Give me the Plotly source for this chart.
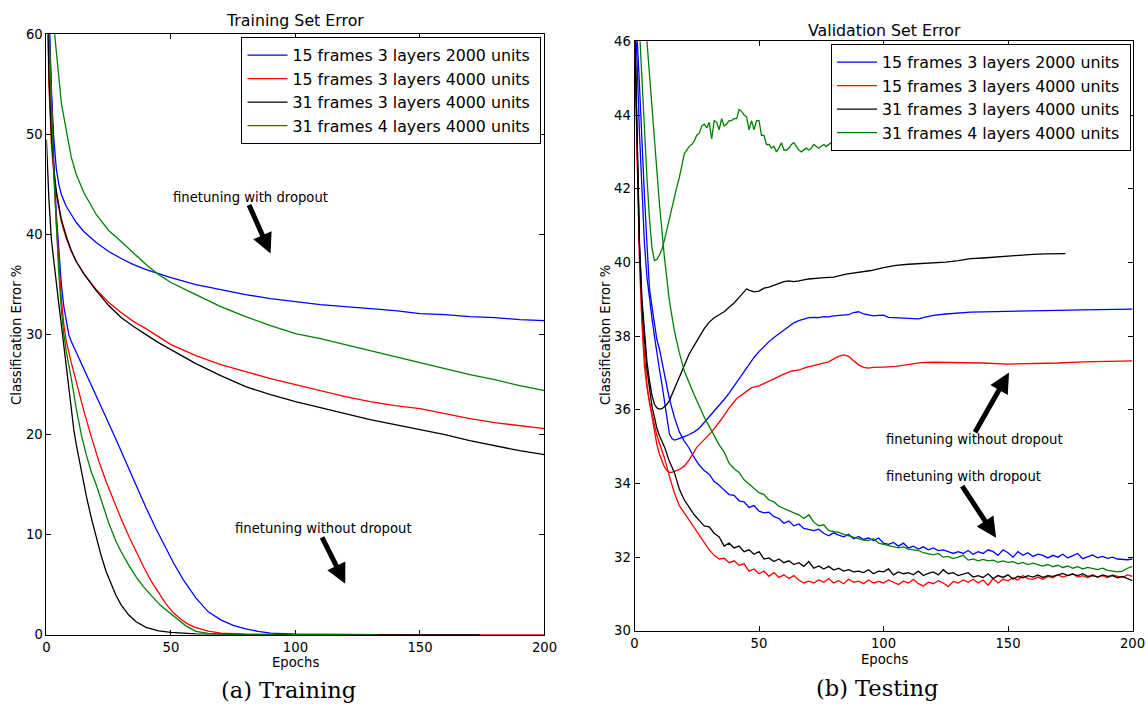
import plotly.graph_objects as go

# ---------------- Training (left) ----------------
TR_EPOCHS_DO = [0, 1, 2, 3, 4, 5, 6, 8, 10, 12, 15, 20, 25, 30, 35, 40, 45, 50,
                60, 70, 80, 90, 100, 110, 120, 130, 140, 150, 160, 170, 180, 190, 200]
tr_blue_do = [80, 62, 54, 49.5, 46.5, 45.0, 44.0, 42.8, 42.0, 41.2, 40.3,
              39.2, 38.3, 37.6, 37.0, 36.5, 36.1, 35.7,
              35.0, 34.5, 34.0, 33.6, 33.3, 33.0, 32.8, 32.6, 32.4, 32.1, 32.0, 31.8, 31.7, 31.5, 31.4]
tr_red_do = [70, 55, 49, 46, 44, 42.5, 41.3, 39.6, 38.3, 37.3, 36.1,
             34.5, 33.2, 32.2, 31.3, 30.6, 29.8, 29.0,
             27.9, 27.0, 26.3, 25.6, 25.0, 24.4, 23.8, 23.3, 22.9, 22.6, 22.1, 21.6, 21.2, 20.9, 20.6]
tr_black_do = [70, 56, 50, 46.5, 44.3, 42.7, 41.5, 39.8, 38.4, 37.3, 36.1,
               34.4, 32.9, 31.7, 30.8, 30.0, 29.2, 28.5,
               27.1, 25.9, 24.8, 24.0, 23.3, 22.7, 22.1, 21.5, 21.0, 20.5, 20.0, 19.4, 18.9, 18.4, 18.0]
tr_green_do = [80, 70, 63.5, 60.8, 58.5, 55.7, 53.1, 50.2, 47.7, 46.0, 44.2,
               42.0, 40.4, 39.3, 38.2, 37.0, 36.0, 35.2,
               34.0, 32.8, 31.8, 30.9, 30.1, 29.6, 29.0, 28.4, 27.8, 27.2, 26.6, 26.0, 25.5, 24.9, 24.4]

tr_blue_nd_x = [0, 1, 2, 3, 4, 5, 6, 7, 8, 9, 10, 13, 16, 20, 24, 28, 32, 36, 40, 44, 48,
                51, 55, 60, 65, 70, 75, 80, 85, 90, 100, 130]
tr_blue_nd_y = [70, 62, 54, 47, 42, 38, 35, 32.8, 31.2, 30.0, 29.3, 27.7, 26.1, 23.9, 21.7, 19.5, 17.2, 14.9, 12.7, 10.6, 8.6,
                7.2, 5.5, 3.7, 2.3, 1.5, 0.95, 0.6, 0.35, 0.18, 0.07, 0.02]
tr_red_nd_x = [0, 1, 2, 3, 4, 5, 6, 7, 8, 10, 12, 15, 18, 21, 24, 27, 30, 33, 36, 39, 42, 45, 48,
               51, 54, 57, 60, 65, 70, 80, 100, 150, 200]
tr_red_nd_y = [68, 60, 52, 46, 41, 37, 33.5, 31, 29.3, 27.2, 25.2, 22.4, 19.8, 17.4, 15.3, 13.4, 11.6, 9.9, 8.3, 6.8, 5.4, 4.2, 3.1,
               2.2, 1.55, 1.05, 0.72, 0.38, 0.17, 0.06, 0.03, 0.02, 0.01]
tr_black_nd_x = [0, 1, 2, 3, 4, 5, 6, 7, 8, 9, 10, 11, 12, 14, 16, 18, 20, 22, 24, 26, 28, 30,
                 33, 36, 40, 45, 50, 60, 70, 80, 100, 174]
tr_black_nd_y = [49.5, 43.5, 39.5, 37.2, 35.0, 33.0, 31.0, 28.9, 26.8, 24.6, 22.5, 20.5, 19.0, 16.3, 13.9, 11.7, 9.7, 7.9, 6.3, 5.0, 3.9, 3.0,
                 2.0, 1.3, 0.75, 0.4, 0.25, 0.1, 0.05, 0.03, 0.02, 0.01]
tr_green_nd_x = [0, 1, 2, 3, 4, 5, 6, 7, 8, 9, 10, 12, 14, 16, 18, 20, 22, 25, 28, 30, 33, 36, 39, 41, 43, 46, 50,
                 53, 56, 60, 65, 70, 80, 100, 133]
tr_green_nd_y = [70, 61, 53, 46, 40.5, 36, 32.5, 30.0, 28.3, 27, 25.6, 22.6, 20.0, 18.0, 16.3, 15.0, 13.4, 11.2, 9.3, 8.3, 7.0, 5.8, 4.8, 4.3, 3.7, 2.9, 2.1,
                 1.5, 0.9, 0.35, 0.15, 0.08, 0.04, 0.02, 0.01]

# ---------------- Validation (right) ----------------
VA_EPOCHS_DO = list(range(0, 11)) + list(range(12, 201, 2))
va_blue_do = [47, 46.2, 44.8, 43.2, 41.8, 40.5, 39.3, 38.8, 38.3, 37.9,
              37.65, 37.0, 36.3, 35.8, 35.4, 35.15, 34.95, 34.7, 34.5, 34.35,
              34.25, 34.05, 33.95, 33.82, 33.7, 33.68, 33.53, 33.5, 33.35, 33.4,
              33.25, 33.2, 33.22, 33.1, 33.05, 32.92, 32.98, 32.85, 32.9, 32.78,
              32.75, 32.72, 32.76, 32.65, 32.58, 32.66, 32.6, 32.55, 32.62, 32.5,
              32.56, 32.48, 32.52, 32.45, 32.52, 32.38, 32.35, 32.4, 32.3, 32.38,
              32.25, 32.3, 32.22, 32.28, 32.2, 32.25, 32.18, 32.2, 32.15, 32.1,
              32.15, 32.1, 32.18, 32.08, 32.15, 32.1, 32.2, 32.15, 32.05, 32.2,
              32.12, 32.0, 32.15, 32.05, 32.12, 32.02, 32.08, 32.05, 31.98, 32.05,
              32.0, 32.08, 31.98, 32.04, 32.1, 31.96, 32.02, 32.06, 31.98, 32.02,
              31.97, 32.0, 31.95, 31.94, 31.93, 31.95]
va_red_do = [47, 43, 40.3, 38.6, 37.5, 36.7, 36.2, 35.9, 35.6, 35.3,
             35.1, 34.7, 34.2, 33.75, 33.4, 33.2, 33.0, 32.78, 32.6, 32.4,
             32.2, 32.05, 31.95, 31.97, 31.85, 31.9, 31.78, 31.82, 31.62, 31.68,
             31.55, 31.62, 31.48, 31.58, 31.45, 31.52, 31.42, 31.5, 31.38, 31.3,
             31.35, 31.3, 31.38, 31.32, 31.42, 31.3, 31.36, 31.28, 31.4, 31.32,
             31.35, 31.28, 31.38, 31.3, 31.34, 31.3, 31.38, 31.32, 31.26, 31.35,
             31.3, 31.4, 31.28, 31.22, 31.32, 31.28, 31.36, 31.3, 31.2, 31.34,
             31.3, 31.38, 31.32, 31.4, 31.3, 31.38, 31.24, 31.42, 31.3, 31.4,
             31.36, 31.44, 31.38, 31.5, 31.42, 31.4, 31.46, 31.4, 31.48, 31.44,
             31.52, 31.46, 31.5, 31.55, 31.46, 31.5, 31.44, 31.52, 31.46, 31.5,
             31.44, 31.52, 31.48, 31.45, 31.52, 31.48]
va_black_do = [46.8, 43.5, 40.5, 38.8, 37.8, 37.1, 36.6, 36.1, 35.8, 35.5,
               35.3, 35.0, 34.6, 34.3, 33.85, 33.55, 33.35, 33.15, 33.0, 32.85,
               32.82, 32.65, 32.55, 32.3, 32.38, 32.25, 32.3, 32.15, 32.2, 32.08,
               32.15, 31.95, 31.98, 31.88, 31.95, 31.85, 31.9, 31.8, 31.85, 31.75,
               31.88, 31.7, 31.76, 31.68, 31.75, 31.65, 31.7, 31.62, 31.66, 31.6,
               31.62, 31.58, 31.66, 31.55, 31.62, 31.6, 31.68, 31.52, 31.6, 31.55,
               31.58, 31.52, 31.62, 31.5, 31.56, 31.6, 31.52, 31.66, 31.55, 31.58,
               31.5, 31.55, 31.58, 31.46, 31.5, 31.45, 31.55, 31.42, 31.5, 31.45,
               31.52, 31.4, 31.48, 31.44, 31.5, 31.46, 31.52, 31.45, 31.5, 31.48,
               31.52, 31.56, 31.5, 31.54, 31.5, 31.55, 31.48, 31.5, 31.46, 31.52,
               31.48, 31.5, 31.44, 31.48, 31.42, 31.36]
va_green_do = [50, 49.3, 48.5, 47.7, 46.9, 46.0, 45.1, 44.2, 43.3, 42.4,
               41.6, 40.15, 38.96, 38.15, 37.55, 37.05, 36.7, 36.4, 36.1, 35.8,
               35.55, 35.3, 35.05, 34.85, 34.55, 34.4, 34.3, 34.1, 33.98, 33.88,
               33.75, 33.7, 33.55, 33.5, 33.38, 33.32, 33.25, 33.2, 33.15, 33.05,
               33.15, 32.95, 32.85, 32.88, 32.72, 32.7, 32.67, 32.62, 32.58, 32.55,
               32.5, 32.46, 32.45, 32.5, 32.38, 32.35, 32.32, 32.3, 32.25, 32.28,
               32.22, 32.2, 32.18, 32.12, 32.1, 32.06, 32.1, 32.0, 32.02, 31.96,
               32.0, 32.05, 31.92, 31.95, 31.9, 31.94, 31.9, 31.92, 31.86, 31.9,
               31.86, 31.88, 31.82, 31.86, 31.8, 31.84, 31.8, 31.76, 31.8, 31.74,
               31.78, 31.72, 31.76, 31.7, 31.74, 31.68, 31.72, 31.68, 31.66, 31.7,
               31.64, 31.62, 31.6, 31.62, 31.7, 31.75]

va_blue_nd_x = (list(range(0, 19)) + list(range(20, 121, 2))
                + [125, 130, 135, 140, 145, 150, 160, 170, 180, 190, 200])
va_blue_nd_y = [47, 45.5, 43.5, 41.8, 40.5, 39.6, 39.0, 38.5, 38.0, 37.5,
                37.1, 36.7, 36.2, 35.7, 35.35, 35.22, 35.18, 35.2, 35.22,
                35.27, 35.33, 35.4, 35.5, 35.65, 35.82, 35.95, 36.1, 36.28, 36.45,
                36.65, 36.85, 37.05, 37.25, 37.42, 37.58, 37.72, 37.85, 37.96, 38.06,
                38.17, 38.28, 38.36, 38.42, 38.46, 38.5, 38.51, 38.5, 38.53, 38.52,
                38.55, 38.56, 38.58, 38.58, 38.64, 38.66, 38.6, 38.57, 38.55, 38.56,
                38.57, 38.51, 38.5, 38.49, 38.48, 38.47, 38.46, 38.47, 38.5, 38.53,
                38.56,
                38.6, 38.63, 38.65, 38.66, 38.67, 38.68, 38.68, 38.7, 38.71, 38.72, 38.73]
va_red_nd_x = (list(range(0, 19)) + [20, 22, 25, 28, 31, 35, 38, 41, 44, 47, 50, 53, 56, 60, 63, 66, 69, 72, 75, 78]
               + list(range(80, 101, 2)) + [105, 110, 115, 120, 130, 140, 150, 160, 170, 180, 190, 200])
va_red_nd_y = [46.5, 43, 40, 38.3, 37.2, 36.6, 36.2, 35.75, 35.4, 35.05,
               34.8, 34.6, 34.45, 34.35, 34.3, 34.3, 34.32, 34.35, 34.38,
               34.47, 34.65, 34.98, 35.2, 35.4, 35.75, 36.05, 36.3, 36.45, 36.6,
               36.65, 36.75, 36.85, 36.97, 37.05, 37.08, 37.15, 37.2, 37.27, 37.3,
               37.38, 37.45, 37.49, 37.45, 37.33, 37.22, 37.15, 37.13, 37.15, 37.15, 37.16,
               37.18, 37.24, 37.28, 37.29, 37.29, 37.27, 37.24, 37.25, 37.27, 37.3, 37.32, 37.33]
va_black_nd_x = (list(range(0, 15)) + list(range(16, 45, 2)) + [45] + list(range(46, 71, 2))
                 + list(range(75, 171, 5)) + [173])
va_black_nd_y = [46.5, 43, 40.5, 39, 38, 37.3, 36.8, 36.4, 36.15, 36.05,
                 36.02, 36.03, 36.08, 36.15, 36.25,
                 36.55, 36.88, 37.2, 37.52, 37.75, 37.97, 38.2, 38.38, 38.5, 38.58,
                 38.66, 38.78, 38.9, 39.05, 39.22,
                 39.28,
                 39.25, 39.2, 39.22, 39.3, 39.33, 39.38, 39.42, 39.48, 39.5, 39.48, 39.5, 39.53, 39.55,
                 39.58, 39.6, 39.68, 39.72, 39.78, 39.86, 39.92, 39.95, 39.97, 39.99,
                 40.01, 40.05, 40.1, 40.12, 40.15, 40.18, 40.2, 40.22, 40.23, 40.24,
                 40.24]
va_green_nd_x = list(range(0, 81)) + [82, 84, 86]
va_green_nd_y = [49, 47.6, 46.2, 44.8, 43.5, 42.3, 41.2, 40.4, 40.05, 40.08,
                 40.2, 40.35, 40.6, 40.9, 41.2, 41.5, 41.8, 42.05, 42.3, 42.65,
                 42.95, 43.05, 43.15, 43.2, 43.3, 43.45, 43.5, 43.7, 43.75, 43.65,
                 43.8, 43.35, 43.85, 43.8, 43.6, 43.9, 43.7, 43.75, 43.85, 43.85,
                 43.9, 43.9, 44.15, 44.1, 44.0, 43.95, 43.6, 43.85, 43.6, 43.85,
                 43.85, 43.45, 43.45, 43.2, 43.2, 43.1, 43.15, 43.0, 43.1, 43.25,
                 43.05, 43.05, 43.1, 43.2, 43.25, 43.15, 43.05, 43.0, 43.05, 43.1,
                 43.05, 43.1, 43.2, 43.15, 43.1, 43.15, 43.2, 43.15, 43.2, 43.25,
                 43.2, 43.3, 43.3, 43.35]

LABELS = ["15 frames 3 layers 2000 units", "15 frames 3 layers 4000 units",
          "31 frames 3 layers 4000 units", "31 frames 4 layers 4000 units"]
COLORS = ["#0000ff", "#ff0000", "#000000", "#008000"]

FONT = "DejaVu Sans"
LW = 1.3

fig = go.Figure()

train_sets = [
    (tr_blue_do, tr_blue_nd_x, tr_blue_nd_y),
    (tr_red_do, tr_red_nd_x, tr_red_nd_y),
    (tr_black_do, tr_black_nd_x, tr_black_nd_y),
    (tr_green_do, tr_green_nd_x, tr_green_nd_y),
]
for i, (do_y, nd_x, nd_y) in enumerate(train_sets):
    fig.add_trace(go.Scatter(x=TR_EPOCHS_DO, y=do_y, mode="lines", name=LABELS[i] + "\u00a0",
                             line=dict(color=COLORS[i], width=LW), xaxis="x", yaxis="y",
                             legend="legend", showlegend=True))
    fig.add_trace(go.Scatter(x=nd_x, y=nd_y, mode="lines", name=LABELS[i],
                             line=dict(color=COLORS[i], width=LW), xaxis="x", yaxis="y",
                             showlegend=False))

val_sets = [
    (va_blue_do, va_blue_nd_x, va_blue_nd_y),
    (va_red_do, va_red_nd_x, va_red_nd_y),
    (va_black_do, va_black_nd_x, va_black_nd_y),
    (va_green_do, va_green_nd_x, va_green_nd_y),
]
for i, (do_y, nd_x, nd_y) in enumerate(val_sets):
    fig.add_trace(go.Scatter(x=VA_EPOCHS_DO, y=do_y, mode="lines", name=LABELS[i] + "\u00a0",
                             line=dict(color=COLORS[i], width=LW), xaxis="x2", yaxis="y2",
                             legend="legend2", showlegend=True))
    fig.add_trace(go.Scatter(x=nd_x, y=nd_y, mode="lines", name=LABELS[i],
                             line=dict(color=COLORS[i], width=LW), xaxis="x2", yaxis="y2",
                             legend="legend2", showlegend=False))

W, H = 1146, 710
# the photographed page shows the figure slightly reduced; target picture pixels
# are converted back into figure pixels here
SX, CX = 0.985, 3.6
SY, CY = 0.978, 6.7
def X(p):
    return min((p - CX) / SX, W - 0.5) / W
def Y(p):
    return 1 - ((p - CY) / SY) / H

axis_common = dict(showline=True, linecolor="black", linewidth=1, mirror="ticks",
                   ticks="inside", ticklen=5, tickwidth=1, tickcolor="black",
                   showgrid=False, zeroline=False,
                   tickfont=dict(family=FONT, size=13.2, color="black"), layer="below traces")

legend_common = dict(xanchor="right", yanchor="top", bgcolor="white", bordercolor="black",
                     borderwidth=1, font=dict(family=FONT, size=15.8, color="black"),
                     itemwidth=40, tracegroupgap=0)

fig.update_layout(
    width=W, height=H, margin=dict(l=0, r=0, t=0, b=0),
    paper_bgcolor="white", plot_bgcolor="white",
    font=dict(family=FONT, color="black"),
    xaxis=dict(domain=[X(46), X(544)], range=[0, 200], tickvals=[0, 50, 100, 150, 200],
               anchor="y", **axis_common),
    yaxis=dict(domain=[Y(634), Y(34)], range=[0, 60], tickvals=[0, 10, 20, 30, 40, 50, 60],
               anchor="x", **axis_common),
    xaxis2=dict(domain=[X(634), X(1134)], range=[0, 200], tickvals=[0, 50, 100, 150, 200],
                anchor="y2", **axis_common),
    yaxis2=dict(domain=[Y(630), Y(41)], range=[30, 46], tickvals=[30, 32, 34, 36, 38, 40, 42, 44, 46],
                anchor="x2", **axis_common),
    legend=dict(x=X(541), y=Y(37), **legend_common),
    legend2=dict(x=min(X(1132), 1144 / W), y=Y(44), **legend_common),
)

ann = []
def text(x, y, s, size=13.2, xref="paper", yref="paper", xanchor="center", angle=0, family=FONT):
    ann.append(dict(x=x, y=y, xref=xref, yref=yref, text=s, showarrow=False,
                    xanchor=xanchor, yanchor="middle", textangle=angle,
                    font=dict(family=family, size=size, color="black")))

text(X(295), Y(20), "Training Set Error", size=15.8)
text(X(884), Y(30), "Validation Set Error", size=15.8)
text(X(295), Y(662), "Epochs", size=13.2)
text(X(884), Y(659), "Epochs", size=13.2)
text(X(16), Y(334), "Classification Error %", size=13.2, angle=-90)
text(X(605), Y(335), "Classification Error %", size=13.2, angle=-90)
text(X(288), 1 - 698 / H, "(a) Training", size=22.5, family="DejaVu Serif")
text(X(876), 1 - 696 / H, "(b) Testing", size=22.5, family="DejaVu Serif")

# annotation texts in data coordinates
text(50.2, 43.7, "finetuning with dropout", xref="x", yref="y", xanchor="left")
text(75.1, 10.6, "finetuning without dropout", xref="x", yref="y", xanchor="left")
text(100, 35.19, "finetuning without dropout", xref="x2", yref="y2", xanchor="left")
text(100, 34.18, "finetuning with dropout", xref="x2", yref="y2", xanchor="left")

def arrow(x0, y0, x1, y1, xr, yr):
    ann.append(dict(x=x1, y=y1, ax=x0, ay=y0, xref=xr, yref=yr, axref=xr, ayref=yr,
                    text="", showarrow=True, arrowhead=2, arrowsize=0.8, arrowwidth=5,
                    arrowcolor="black", standoff=0, startstandoff=0))

arrow(81.1, 43.1, 90.0, 38.1, "x", "y")
arrow(110.4, 9.9, 120.0, 5.1, "x", "y")
arrow(136.4, 35.35, 150.4, 37.01, "x2", "y2")
arrow(131.2, 33.97, 145.2, 32.53, "x2", "y2")

fig.update_layout(annotations=ann)

fig.write_html("out.html")
